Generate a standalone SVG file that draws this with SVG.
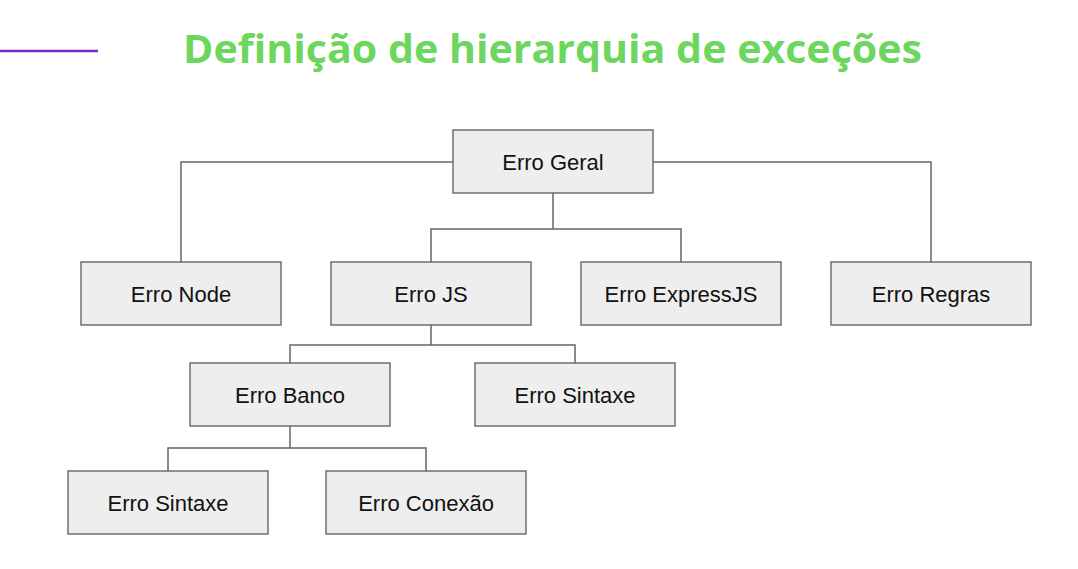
<svg xmlns="http://www.w3.org/2000/svg" width="1078" height="569" viewBox="0 0 1078 569">
<style>
.box{fill:#eeeeee;stroke:#666666;stroke-width:1.4}
.lbl{font-family:"Liberation Sans",Arial,sans-serif;font-size:22px;fill:#111111;text-anchor:middle}
.con{fill:none;stroke:#666666;stroke-width:1.5}
.title{font-family:"Open Sans","Liberation Sans",sans-serif;font-weight:700;font-size:40px;fill:#6dd65e}
</style>
<rect width="1078" height="569" fill="#ffffff"/>
<line x1="0" y1="51" x2="98" y2="51" stroke="#7a2cbd" stroke-width="2.5"/>
<text class="title" x="183" y="63" textLength="739" lengthAdjust="spacingAndGlyphs">Definição de hierarquia de exceções</text>
<g id="connectors">
<polyline class="con" points="453,162 181,162 181,262"/>
<polyline class="con" points="653,162 931,162 931,262"/>
<line class="con" x1="553" y1="193" x2="553" y2="229"/>
<polyline class="con" points="431,262 431,229 681,229 681,262"/>
<line class="con" x1="431" y1="325" x2="431" y2="345"/>
<polyline class="con" points="290,363 290,345 575,345 575,363"/>
<line class="con" x1="290" y1="426" x2="290" y2="448"/>
<polyline class="con" points="168,471 168,448 426,448 426,471"/>
</g>
<g id="erro-geral"><rect class="box" x="453" y="130" width="200" height="63"/><text class="lbl" x="553" y="170">Erro Geral</text></g>
<g id="erro-node"><rect class="box" x="81" y="262" width="200" height="63"/><text class="lbl" x="181" y="302">Erro Node</text></g>
<g id="erro-js"><rect class="box" x="331" y="262" width="200" height="63"/><text class="lbl" x="431" y="302">Erro JS</text></g>
<g id="erro-expressjs"><rect class="box" x="581" y="262" width="200" height="63"/><text class="lbl" x="681" y="302">Erro ExpressJS</text></g>
<g id="erro-regras"><rect class="box" x="831" y="262" width="200" height="63"/><text class="lbl" x="931" y="302">Erro Regras</text></g>
<g id="erro-banco"><rect class="box" x="190" y="363" width="200" height="63"/><text class="lbl" x="290" y="403">Erro Banco</text></g>
<g id="erro-sintaxe-js"><rect class="box" x="475" y="363" width="200" height="63"/><text class="lbl" x="575" y="403">Erro Sintaxe</text></g>
<g id="erro-sintaxe-banco"><rect class="box" x="68" y="471" width="200" height="63"/><text class="lbl" x="168" y="511">Erro Sintaxe</text></g>
<g id="erro-conexao"><rect class="box" x="326" y="471" width="200" height="63"/><text class="lbl" x="426" y="511">Erro Conexão</text></g>
</svg>
